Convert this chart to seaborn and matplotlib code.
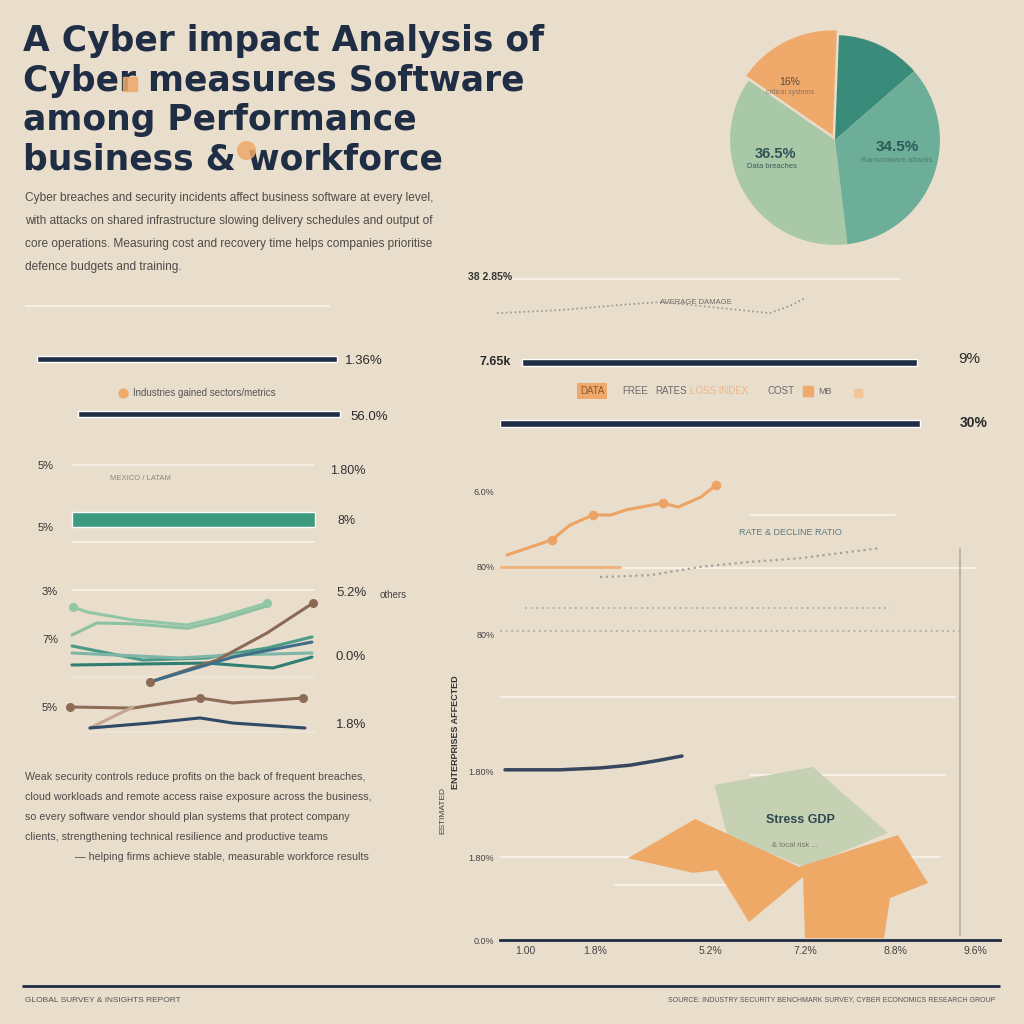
import numpy as np
import pandas as pd
import matplotlib
matplotlib.use("Agg")
import matplotlib.pyplot as plt
import seaborn as sns

sns.set_theme(style="white")
plt.rcParams["font.family"] = ["DejaVu Sans"]

# ---------------- data ----------------
title_lines = ["A Cyber impact Analysis of", "Cyber measures Software",
               "among Performance", "business & workforce"]
intro_lines = [
    "Cyber breaches and security incidents affect business software at every level,",
    "with attacks on shared infrastructure slowing delivery schedules and output of",
    "core operations. Measuring cost and recovery time helps companies prioritise",
    "defence budgets and training.",
]
outro_lines = [
    "Weak security controls reduce profits on the back of frequent breaches,",
    "cloud workloads and remote access raise exposure across the business,",
    "so every software vendor should plan systems that protect company",
    "clients, strengthening technical resilience and productive teams",
    "— helping firms achieve stable, measurable workforce results",
]
footer_left = "GLOBAL SURVEY & INSIGHTS REPORT"
footer_right = "SOURCE: INDUSTRY SECURITY BENCHMARK SURVEY, CYBER ECONOMICS RESEARCH GROUP"

pie_values = [13.0, 16.0, 36.5, 34.5]
pie_labels = ["", "16%", "36.5%", "34.5%"]
pie_sub = ["", "critical systems", "Data breaches", "Ransomware attacks"]

barL_start = [1.75, 12.0]
barL_len = [75.0, 65.5]
barL_labels = ["1.36%", "56.0%"]
legendL_text = "Industries gained sectors/metrics"

green_start = [10.5]
green_len = [60.75]
green_left_labels = ["5%", "5%"]
green_right_labels = ["1.80%", "8%"]

barR_start = [4.4, 0.0]
barR_len = [79.0, 84.0]
barR_labels = ["9%", "30%"]
barR_left = "7.65k"
legendR_items = ["DATA", "FREE", "RATES", "LOSS INDEX", "COST", "MB"]

wave_x = [0.21, 2.12, 3.94, 5.15, 6.36, 7.58, 8.48, 9.09, 9.55]
wave_y = [23, 33, 50, 60, 47, 33, 23, 47, 73]

linesL = {
    "a": ([0.5, 1.04, 2.81, 4.88, 6.04, 7.96], [88.7, 85.3, 80.0, 76.7, 81.3, 91.3]),
    "b": ([0.46, 1.42, 2.8, 4.9, 6.0, 7.9], [70.0, 78.0, 77.5, 74.5, 79.0, 89.0]),
    "c": ([0.46, 3.19, 5.65, 7.96, 9.69], [62.7, 53.3, 54.7, 61.3, 68.7]),
    "d": ([0.46, 4.62, 6.65, 9.69], [58.0, 54.7, 56.7, 58.0]),
    "e": ([0.46, 5.65, 8.19, 9.69], [50.0, 51.3, 48.0, 55.3]),
    "f": ([3.46, 6.04, 7.96, 9.73], [38.7, 53.3, 71.3, 91.3]),
    "g": ([3.46, 6.65, 9.69], [38.7, 55.3, 65.3]),
    "h": ([0.38, 2.81, 5.38, 6.65, 9.35], [22.0, 21.3, 28.0, 24.7, 28.0]),
    "i": ([1.15, 2.81], [8.0, 22.0]),
    "j": ([1.15, 3.46, 5.38, 6.65, 9.42], [8.0, 11.3, 14.7, 11.3, 8.0]),
}
linesL_colors = {"a": "#93C6A6", "b": "#8CC2A2", "c": "#4C9A88", "d": "#7EB5A6",
                 "e": "#2F7D73", "f": "#8B6A55", "g": "#3F6E88", "h": "#8E6C58",
                 "i": "#C4A78F", "j": "#2E4A66"}
linesL_left_ticks = ["3%", "7%", "5%"]
linesL_right_ticks = ["5.2%", "0.0%", "1.8%"]

orange_x = [0.14, 1.04, 1.4, 1.86, 2.22, 2.52, 3.26, 3.56, 4.02, 4.32]
orange_y = [83.7, 87.0, 90.2, 92.4, 92.4, 93.5, 95.0, 94.1, 96.3, 98.9]
navy_x = [0.1, 1.2, 2.0, 2.6, 3.2, 3.64]
navy_y = [37.0, 37.0, 37.4, 38.0, 39.1, 40.0]
gray_x = [2.0, 3.0, 4.0, 5.0, 6.0, 7.6]
gray_y = [78.9, 79.3, 81.1, 82.2, 83.0, 85.2]
flat_x = [0.0, 2.4]
flat_y = [81.0, 81.0]
shape_or_x = [2.56, 3.9, 5.98, 7.96, 8.56, 7.8, 7.68, 6.1, 6.06, 4.98, 4.34, 3.86]
shape_or_y = [17.8, 26.3, 15.9, 22.8, 12.4, 9.1, 0.4, 0.4, 13.7, 3.9, 15.2, 14.6]
shape_gr_x = [4.29, 6.26, 7.76, 6.1, 4.56]
shape_gr_y = [33.7, 37.6, 23.3, 15.9, 22.2]
xticks_R = [0.5, 1.9, 4.2, 6.1, 7.9, 9.5]
xtick_labels_R = ["1.00", "1.8%", "5.2%", "7.2%", "8.8%", "9.6%"]
yticks_R = [97.4, 81.3, 66.5, 36.7, 18.0, 0.0]
ytick_labels_R = ["6.0%", "80%", "80%", "1.80%", "1.80%", "0.0%"]

# ---------------- style ----------------
BG = "#E9DDCB"
NAVY = "#1F2E44"
TXT = "#4A4744"
ORANGE = "#EEA96B"
LINE_W = "#F6F0E6"
TITLE_FONT = ["DejaVu Sans"]
BODY_FONT = ["Liberation Sans Narrow", "Liberation Sans", "DejaVu Sans"]

W = 1024
fig = plt.figure(figsize=(10.24, 10.24), dpi=100, facecolor=BG)

canvas = fig.add_axes([0, 0, 1, 1], zorder=0)
canvas.set_xlim(0, W)
canvas.set_ylim(W, 0)
canvas.axis("off")

overlay = fig.add_axes([0, 0, 1, 1], zorder=20)
overlay.set_xlim(0, W)
overlay.set_ylim(W, 0)
overlay.axis("off")


def px_axes(x0, y0, x1, y1, z=2, off=True):
    ax = fig.add_axes([x0 / W, 1 - y1 / W, (x1 - x0) / W, (y1 - y0) / W], zorder=z)
    ax.set_facecolor("none")
    if off:
        ax.axis("off")
    return ax


def T(x, y, s, size=8, color=TXT, family=BODY_FONT, **kw):
    return overlay.text(x, y, s, fontsize=size, color=color, family=family,
                        va=kw.pop("va", "center"), **kw)


def hl(y, x0, x1, color=LINE_W, lw=1.3, ls="-"):
    canvas.plot([x0, x1], [y, y], color=color, lw=lw, ls=ls, solid_capstyle="butt")


# ---------------- title & intro ----------------
title_y = [41, 81, 120, 159]
title_texts = [T(23, y, line, size=23, color=NAVY, family=TITLE_FONT, weight="bold")
               for y, line in zip(title_y, title_lines)]
renderer = fig.canvas.get_renderer()
w0 = title_texts[0].get_window_extent(renderer=renderer).width
fs = 23 * 522.0 / w0
for t in title_texts:
    t.set_fontsize(fs)
overlay.scatter([130], [84], s=90, marker="s", color=ORANGE, alpha=0.85, zorder=5)
overlay.scatter([246], [150], s=160, marker="o", color=ORANGE, alpha=0.85, zorder=5)

for i, line in enumerate(intro_lines):
    T(25, 198 + i * 23, line, size=8.6, color="#4E4B48")
hl(306, 25, 330)

# ---------------- pie ----------------
axp = px_axes(728, 33, 942, 247, z=3)
axp.pie(pie_values, colors=["#3A8C7A", ORANGE, "#A9C8A7", "#6CAE97"],
        startangle=41, explode=[0, 0.05, 0, 0], radius=1.0,
        wedgeprops=dict(linewidth=0))
axp.set_xlim(-1.02, 1.02)
axp.set_ylim(-1.02, 1.02)
axp.set_aspect("equal")
T(790, 82, pie_labels[1], size=7.5, color="#5B4A3A", ha="center")
T(790, 93, pie_sub[1], size=5, color="#8A7560", ha="center")
T(775, 154, pie_labels[2], size=10.5, color="#2D5456", ha="center", weight="bold")
T(772, 166, pie_sub[2], size=5.5, color="#3E5E5E", ha="center")
T(897, 147, pie_labels[3], size=11, color="#2B5A58", ha="center", weight="bold")
T(897, 161, pie_sub[3], size=5.5, color="#4D7C72", ha="center")

# ---------------- left bars ----------------
axb = px_axes(30, 345, 430, 430)
axb.set_xlim(0, 100)
axb.set_ylim(85, 0)
axb.barh([14, 69], barL_len, left=barL_start, height=6, color=NAVY)
T(345, 361, barL_labels[0], size=9.5, color="#2A2A2A")
T(350, 417, barL_labels[1], size=9.5, color="#2A2A2A")
overlay.scatter([123], [393], s=40, color=ORANGE, marker="o", zorder=3)
T(133, 393, legendL_text, size=7, color="#555")

hl(465, 72, 315)
T(38, 466, green_left_labels[0], size=8, color="#333")
T(330, 471, green_right_labels[0], size=9, color="#333")
T(110, 478, "MEXICO / LATAM", size=5.5, color="#8C8782")
axg = px_axes(30, 450, 430, 545)
axg.set_xlim(0, 100)
axg.set_ylim(95, 0)
axg.barh([69.5], green_len, left=green_start, height=15, color="#3C9A7E")
T(38, 528, green_left_labels[1], size=8, color="#333")
T(338, 521, green_right_labels[1], size=9, color="#333")
hl(542, 72, 315)

# ---------------- left line chart ----------------
hl(590, 72, 315)
hl(677, 72, 315, color="#EFE6D9")
hl(732, 90, 315, color="#EFE6D9")
axl = px_axes(60, 590, 320, 740)
axl.set_xlim(0, 10)
axl.set_ylim(0, 100)
rows = []
for k, (xs, ys) in linesL.items():
    for x, y in zip(xs, ys):
        rows.append({"series": k, "x": x, "y": y})
dfL = pd.DataFrame(rows)
sns.lineplot(data=dfL, x="x", y="y", hue="series", palette=linesL_colors,
             linewidth=2.2, legend=False, ax=axl, estimator=None, sort=True)
for k in ["a", "f", "h"]:
    xs, ys = linesL[k]
    axl.scatter([xs[0], xs[-1]], [ys[0], ys[-1]], s=30,
                color=linesL_colors[k], zorder=4)
axl.scatter([linesL["h"][0][2]], [linesL["h"][1][2]], s=30, color=linesL_colors["h"], zorder=4)
axl.set_xlabel("")
axl.set_ylabel("")
axl.axis("off")
for (y, s) in zip([592, 640, 708], linesL_left_ticks):
    T(42, y, s, size=8, color="#333")
for (y, s) in zip([593, 657, 725], linesL_right_ticks):
    T(336, y, s, size=9.5, color="#333")
T(380, 595, "others", size=7, color="#444")

# ---------------- outro ----------------
for i, line in enumerate(outro_lines):
    x = 75 if i == len(outro_lines) - 1 else 25
    T(x, 777 + i * 20, line, size=7.7, color="#4E4B48")

# ---------------- right upper ----------------
T(468, 277, "38 2.85%", size=7.5, color="#333", weight="bold")
hl(279, 500, 900, color="#F6EFE3", lw=1.5)
axw = px_axes(490, 290, 820, 320)
axw.set_xlim(0, 10)
axw.set_ylim(0, 100)
sns.lineplot(x=wave_x, y=wave_y, ax=axw, color="#9C978F", lw=1.2, ls=":")
axw.axis("off")
T(660, 302, "AVERAGE DAMAGE", size=5.5, color="#6E6A64")

axr = px_axes(500, 340, 1000, 440)
axr.set_xlim(0, 100)
axr.set_ylim(100, 0)
axr.barh([22, 83], barR_len, left=barR_start, height=7, color=NAVY)
T(480, 362, barR_left, size=9, color="#2A2A2A", weight="bold")
T(958, 359, barR_labels[0], size=11, color="#2A2A2A")
T(960, 423, barR_labels[1], size=10, color="#2A2A2A", weight="bold")

leg_x = [580, 622, 655, 690, 767, 818]
for i, (x, s) in enumerate(zip(leg_x, legendR_items)):
    if i == 0:
        T(x, 391, s, size=7, color="#8A5A30",
          bbox=dict(boxstyle="square,pad=0.3", fc=ORANGE, ec="none"))
    elif i == 3:
        T(x, 391, s, size=7, color="#E8B88E")
    elif i == 5:
        overlay.scatter([808], [391], s=60, marker="s", color=ORANGE, zorder=3)
        T(x, 391, s, size=6.5, color="#666")
    else:
        T(x, 391, s, size=7, color="#6B6B6B")
overlay.scatter([858], [393], s=35, marker="s", color="#F2C49A", zorder=3)

# ---------------- right lower chart ----------------
axR = px_axes(500, 480, 1000, 940, z=2, off=False)
axR.set_xlim(0, 10)
axR.set_ylim(0, 100)
for sp in ["top", "right", "left"]:
    axR.spines[sp].set_visible(False)
axR.spines["bottom"].set_color(NAVY)
axR.spines["bottom"].set_linewidth(2)
grid_specs = [(92.4, 5.0, 7.9, LINE_W, "-"), (80.9, 0.0, 9.5, LINE_W, "-"),
              (72.2, 0.5, 7.8, "#BFB6A8", ":"), (67.2, 0.0, 9.2, "#BFB6A8", ":"),
              (52.8, 0.0, 9.1, LINE_W, "-"), (35.9, 5.0, 8.9, LINE_W, "-"),
              (18.0, 0.0, 8.8, LINE_W, "-"), (12.0, 2.3, 5.6, LINE_W, "-")]
for y, x0, x1, c, ls in grid_specs:
    axR.plot([x0, x1], [y, y], color=c, lw=1.5, ls=ls, zorder=1)
axR.plot([9.2, 9.2], [1, 85], color="#B8B0A4", lw=1.3, zorder=1)
axR.fill(shape_gr_x, shape_gr_y, color="#C6D0B2", lw=0, zorder=2)
axR.fill(shape_or_x, shape_or_y, color="#EEA966", lw=0, zorder=3)
sns.lineplot(x=flat_x, y=flat_y, ax=axR, color="#F0B27A", lw=2)
sns.lineplot(x=gray_x, y=gray_y, ax=axR, color="#A8A198", lw=1.6, ls=":")
sns.lineplot(x=orange_x, y=orange_y, ax=axR, color="#EBA465", lw=2.2)
axR.scatter([orange_x[1], orange_x[3], orange_x[6], orange_x[-1]],
            [orange_y[1], orange_y[3], orange_y[6], orange_y[-1]],
            s=35, color="#EBA465", zorder=4)
sns.lineplot(x=navy_x, y=navy_y, ax=axR, color="#35465E", lw=2.5)
axR.text(6.0, 26.0, "Stress GDP", fontsize=9, weight="bold", color="#2D4A50",
         family=BODY_FONT, ha="center", va="center", zorder=5)
axR.text(5.9, 20.5, "& local risk ...", fontsize=5.5, color="#6F7565",
         family=BODY_FONT, ha="center", va="center", zorder=5)
axR.text(5.8, 88.5, "RATE & DECLINE RATIO", fontsize=6.5, color="#5A7C80",
         family=BODY_FONT, ha="center", va="center", zorder=5)
axR.set_xticks(xticks_R)
axR.set_xticklabels(xtick_labels_R, fontsize=7.5, color="#444", family=BODY_FONT)
axR.set_yticks(yticks_R)
axR.set_yticklabels(ytick_labels_R, fontsize=6.5, color="#444", family=BODY_FONT)
axR.tick_params(axis="both", length=0, pad=4)
axR.set_xlabel("")
axR.set_ylabel("")
T(456, 732, "ENTERPRISES AFFECTED", size=6.5, color="#333", rotation=90,
  ha="center", weight="bold")
T(443, 810, "ESTIMATED", size=6, color="#444", rotation=90, ha="center")

# ---------------- footer ----------------
hl(986, 22, 1000, color=NAVY, lw=2)
T(25, 1000, footer_left, size=6, color="#555")
T(995, 1000, footer_right, size=5, color="#555", ha="right")

fig.savefig("out.png", dpi=100, facecolor=BG)
